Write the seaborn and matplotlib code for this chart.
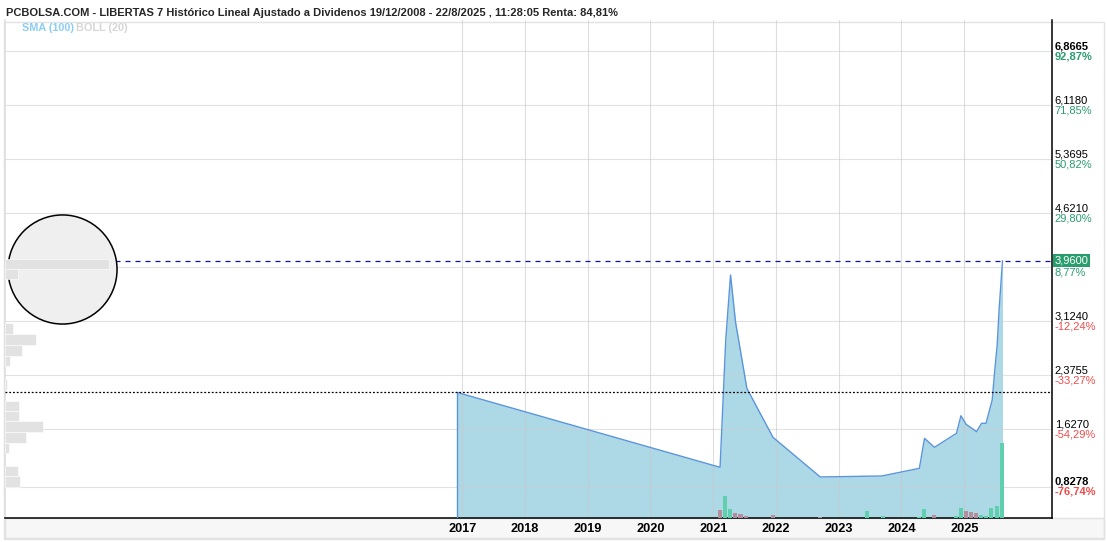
import numpy as np
import pandas as pd
import seaborn as sns
import matplotlib.pyplot as plt
from matplotlib.patches import Rectangle
from matplotlib.transforms import blended_transform_factory

# price line (adjusted close)
price_dates = pd.to_datetime([
    "2016-12-01", "2021-02-10", "2021-03-15", "2021-04-12", "2021-05-11", "2021-07-16",
    "2021-12-15", "2022-09-16", "2023-09-10", "2024-04-15", "2024-05-15", "2024-07-12",
    "2024-11-17", "2024-12-13", "2025-01-12", "2025-03-14", "2025-04-12", "2025-05-08",
    "2025-06-13", "2025-06-28", "2025-07-12", "2025-07-23", "2025-08-12",
])
prices = [
    2.135, 1.096, 2.861, 3.762, 3.110, 2.190,
    1.512, 0.962, 0.976, 1.082, 1.498, 1.373,
    1.567, 1.811, 1.692, 1.590, 1.706, 1.706,
    2.029, 2.445, 2.790, 3.277, 3.960,
]

# monthly volume bars (up month / down month)
vol_dates = pd.to_datetime([
    "2021-02-10", "2021-03-11", "2021-04-09", "2021-05-08", "2021-06-09", "2021-07-11",
    "2021-12-13", "2022-09-15", "2023-06-13", "2023-09-14", "2024-04-11", "2024-05-11",
    "2024-07-08", "2024-11-13", "2024-12-12", "2025-01-10", "2025-02-09", "2025-03-10",
    "2025-04-08", "2025-05-08", "2025-06-06", "2025-07-10", "2025-08-08",
])
volumes = [8, 22, 9, 5.3, 4.5, 2, 3, 1, 7, 2, 1, 9, 3, 2, 10, 7, 6, 5, 3.5, 2.5, 10, 12, 75]
vol_up = [False, True, True, False, False, False, False, False, True, True, True, True,
          False, True, True, False, False, False, True, True, True, True, True]

# volume by price profile (left side)
profile_prices = [3.917, 3.778, 3.020, 2.870, 2.718, 2.567, 2.247, 1.949, 1.807,
                  1.662, 1.512, 1.364, 1.048, 0.896]
profile_volume = [104, 12.7, 7.7, 31.3, 16.7, 5.3, 2.3, 14, 13.7, 37.7, 21, 3.7, 12.7, 15.3]

# right axis levels
levels = [0.8278, 1.6270, 2.3755, 3.1240, 3.8725, 4.6210, 5.3695, 6.1180, 6.8665]
level_labels = ["0,8278", "1,6270", "2,3755", "3,1240", "", "4,6210", "5,3695", "6,1180", "6,8665"]
level_pcts = ["-76,74%", "-54,29%", "-33,27%", "-12,24%", "", "29,80%", "50,82%", "71,85%", "92,87%"]
years = [2017, 2018, 2019, 2020, 2021, 2022, 2023, 2024, 2025]
last_label = "3,9600"
last_pct = "8,77%"

title = ("PCBOLSA.COM - LIBERTAS 7 Histórico Lineal Ajustado a Dividenos "
         "19/12/2008 - 22/8/2025 , 11:28:05 Renta: 84,81%")

sns.set_style("white")
plt.rcParams["font.family"] = ["Liberation Sans", "DejaVu Sans"]

LINE = "#5b95dc"
FILL = "#add8e6"
GREEN = "#2a9d6f"
RED = "#f04b4b"

W, H = 1107, 542
fig = plt.figure(figsize=(W / 100, H / 100), dpi=100)
fig.patch.set_facecolor("white")

# bottom strip + outer frame
fig.patches.append(Rectangle((5 / W, 4 / H), 1099 / W, 20 / H, transform=fig.transFigure,
                             facecolor="#f7f7f7", edgecolor="#e2e2e2", lw=1, zorder=-5))
fig.patches.append(Rectangle((4 / W, 3 / H), 1100 / W, 517 / H, transform=fig.transFigure,
                             facecolor="none", edgecolor="#e2e2e2", lw=1, zorder=-5))

ax = fig.add_axes([5 / W, 24 / H, 1047 / W, 498 / H])
ax.set_facecolor("none")

df = pd.DataFrame({"date": price_dates, "price": prices})
ax.fill_between(df["date"], df["price"], 0, color=FILL, lw=0, zorder=1)
sns.lineplot(data=df, x="date", y="price", ax=ax, color=LINE, lw=1, zorder=3)
ax.vlines(df["date"].iloc[0], 0, df["price"].iloc[0], color=LINE, lw=1, zorder=3)

ax.set_xlim(pd.Timestamp("2009-09-19"), pd.Timestamp("2026-05-27"))
ax.set_ylim(0.3933, 7.2965)

# grid
for lv in levels:
    ax.axhline(lv, color="#d0d0d0", lw=0.8, alpha=0.6, zorder=2)
for yr in years:
    ax.axvline(pd.Timestamp(f"{yr}-01-01"), color="#c8c8c8", lw=0.8, alpha=0.6, zorder=2)

ax.set_xticks([pd.Timestamp(f"{yr}-01-01") for yr in years])
ax.set_xticklabels([str(y) for y in years], fontsize=9.2, fontweight="bold", color="black")
ax.tick_params(axis="x", length=0, pad=3.5)
ax.set_yticks([])
ax.set_xlabel("")
ax.set_ylabel("")
ax.spines["top"].set_visible(False)
ax.spines["left"].set_color("#dddddd")
ax.spines["bottom"].set_color("black")
ax.spines["right"].set_color("black")
for s in ["bottom", "right", "left"]:
    ax.spines[s].set_linewidth(1.1)

# reference lines
ax.axhline(prices[-1], color="#14149e", lw=0.9, ls=(0, (4, 4)), zorder=4)
ax.axhline(prices[0], color="black", lw=0.9, ls=(0, (1.5, 1.5)), zorder=4)

# volume bars
axv = ax.twinx()
axv.bar(vol_dates, volumes, width=24, lw=0, edgecolor="none",
        color=["#5fcfae" if u else "#b48e9c" for u in vol_up], zorder=3)
axv.set_ylim(0, max(volumes) * 6.64)
axv.set_axis_off()

# volume profile
axp = ax.twiny()
tr_p = blended_transform_factory(axp.transAxes, ax.transData)
axp.scatter([(62 - 5) / 1047], [3.85], s=6170, transform=tr_p,
            facecolor="#efefef", edgecolor="black", lw=1.1, zorder=2)
axp.barh(profile_prices, profile_volume, height=0.146, color="#e2e2e2",
         lw=0.4, edgecolor="white", zorder=3)
axp.set_xlim(0, 1047)
axp.set_axis_off()

# right labels
tr = blended_transform_factory(ax.transAxes, ax.transData)
x0 = 1.0025
for i, (lv, lab, pct) in enumerate(zip(levels, level_labels, level_pcts)):
    if not lab:
        continue
    bold = "bold" if i in (0, len(levels) - 1) else "normal"
    pc = GREEN if not pct.startswith("-") else RED
    ax.text(x0, lv, lab, transform=tr, fontsize=8, fontweight=bold, color="black",
            ha="left", va="bottom", clip_on=False)
    ax.text(x0, lv, pct, transform=tr, fontsize=8, fontweight=bold, color=pc,
            ha="left", va="top", clip_on=False)

ax.text(x0, prices[-1], last_label, transform=tr, fontsize=8, color="white",
        ha="left", va="center", clip_on=False, zorder=6,
        bbox=dict(boxstyle="square,pad=0.15", facecolor=GREEN, edgecolor="none"))
ax.text(x0, prices[-1] - 0.1, last_pct, transform=tr, fontsize=8, color=GREEN,
        ha="left", va="top", clip_on=False)

# title and indicator legend
fig.text(6 / W, 1 - 12.7 / H, title, fontsize=8, fontweight="bold",
         family=["Liberation Sans Narrow", "Liberation Sans", "DejaVu Sans"], va="center")
fig.text(22 / W, 1 - 28 / H, "SMA (100)", fontsize=7.8, fontweight="bold",
         color="#8ccdf5", va="center")
fig.text(76 / W, 1 - 28 / H, "BOLL (20)", fontsize=7.8, fontweight="bold",
         color="#d6d6d6", va="center")

fig.savefig("out.png", dpi=100)
